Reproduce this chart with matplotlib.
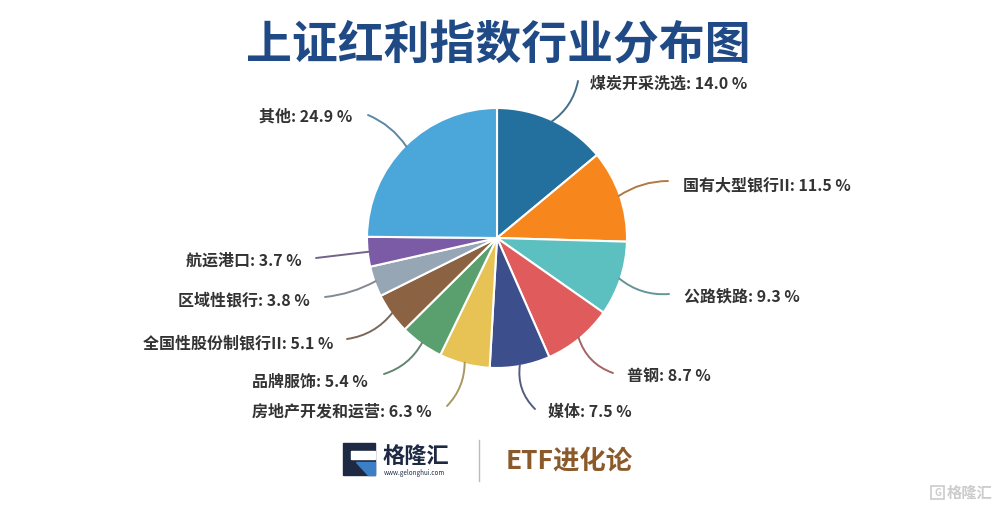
import numpy as np
import matplotlib
matplotlib.use("Agg")
import matplotlib.pyplot as plt
from matplotlib.colors import to_rgb
from matplotlib.patches import Rectangle, Polygon

plt.rcParams['font.family'] = ['Noto Sans CJK SC', 'DejaVu Sans']

# ===== Data =====
industries = ["煤炭开采洗选", "国有大型银行II", "公路铁路", "普钢", "媒体",
              "房地产开发和运营", "品牌服饰", "全国性股份制银行II",
              "区域性银行", "航运港口", "其他"]
weights = [14.0, 11.5, 9.3, 8.7, 7.5, 6.3, 5.4, 5.1, 3.8, 3.7, 24.9]

colors = ["#23709f", "#f7861c", "#5cbfc0", "#e05b5c", "#3d4e8c",
          "#e7c254", "#5a9f6e", "#8b6343", "#96a6b5", "#7b5aa6", "#4ba6da"]

# label layout in pixels: (text x, text y, alignment, leader end x, leader end y, curvature)
label_layout = [
    (590, 84, "left", 578, 81, 0.2),
    (683, 185, "left", 668, 181, -0.15),
    (684, 296, "left", 669, 294, 0.2),
    (627, 376, "left", 613, 373, 0.25),
    (548, 412, "left", 535, 409, 0.25),
    (432, 412, "right", 447, 406, -0.2),
    (368, 381, "right", 384, 374, -0.2),
    (333, 343, "right", 347, 339, -0.2),
    (310, 300, "right", 325, 297, -0.1),
    (302, 261, "right", 316, 258, 0.0),
    (352, 117, "right", 368, 115, 0.15),
]

W, H = 1000, 509


def fx(x):
    return x / W


def fy(y):
    return 1 - y / H


def muted(c, k=0.5):
    rgb = np.array(to_rgb(c))
    return tuple(k * rgb + (1 - k) * np.array([0.42, 0.42, 0.44]))


fig = plt.figure(figsize=(10, 5.09), dpi=100)
fig.patch.set_facecolor("white")

# ===== Pie =====
cx, cy, r = 497, 238, 130
ax = fig.add_axes([fx(cx - r), fy(cy + r), 2 * r / W, 2 * r / H])
wedges, _ = ax.pie(weights, colors=colors, startangle=90, counterclock=False,
                   wedgeprops=dict(edgecolor="white", linewidth=1.5))
ax.set_xlim(-1, 1)
ax.set_ylim(-1, 1)
ax.set_aspect("equal")
ax.axis("off")

for w, name, val, col, lay in zip(wedges, industries, weights, colors, label_layout):
    tx, ty, ha, lx, ly, rad = lay
    ang = np.deg2rad((w.theta1 + w.theta2) / 2)
    start = (0.99 * np.cos(ang), 0.99 * np.sin(ang))
    ax.annotate("", xy=(fx(lx), fy(ly)), xycoords="figure fraction",
                xytext=start, textcoords="data", annotation_clip=False,
                arrowprops=dict(arrowstyle="-", color=muted(col), lw=1.4,
                                shrinkA=0, shrinkB=0,
                                connectionstyle=f"arc3,rad={rad}"))
    fig.text(fx(tx), fy(ty), f"{name}: {val:.1f} %", ha=ha, va="center",
             fontsize=11.5, fontweight="bold", color="#333333")

# ===== Title =====
fig.text(fx(498), fy(45), "上证红利指数行业分布图", ha="center", va="center",
         fontsize=33, fontweight="bold", color="#1f4a86")

# ===== Footer logo =====
lax = fig.add_axes([0, 0, 1, 1], facecolor="none")
lax.set_xlim(0, W)
lax.set_ylim(H, 0)
lax.axis("off")
lax.add_patch(Rectangle((343, 443), 32, 32, color="#1e2a44"))
lax.add_patch(Rectangle((351, 451), 24, 8, color="white"))
lax.add_patch(Polygon([(356, 462), (375, 462), (375, 475), (368, 475)],
                      closed=True, color="#3b7fc6"))
fig.text(fx(383), fy(456), "格隆汇", ha="left", va="center", fontsize=16,
         fontweight="bold", color="#1e2a44")
fig.text(fx(384), fy(473), "www.gelonghui.com", ha="left", va="center",
         fontsize=4.5, color="#1e2a44")
lax.plot([479, 479], [440, 481], color="#bbbbbb", lw=1)
fig.text(fx(506), fy(461), "ETF进化论", ha="left", va="center", fontsize=19,
         fontweight="bold", color="#8b5a2b")

# watermark
lax.add_patch(Rectangle((931, 486), 13, 13, facecolor="none",
                        edgecolor="#cccccc", lw=1.2))
fig.text(fx(937.5), fy(493), "G", ha="center", va="center", fontsize=7,
         color="#cccccc", fontweight="bold")
fig.text(fx(947), fy(493), "格隆汇", ha="left", va="center", fontsize=11,
         color="#cccccc", fontweight="bold")

fig.savefig("out.png", dpi=100, facecolor="white")
